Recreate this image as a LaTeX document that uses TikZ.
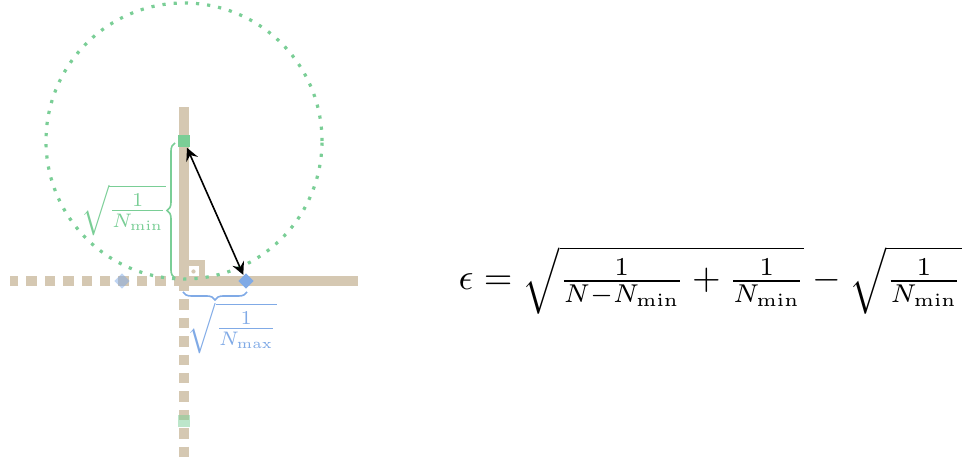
\documentclass[tikz,border=0pt]{standalone}
\usepackage{amsmath}
\usetikzlibrary{decorations.pathreplacing,shapes.geometric,arrows}
\definecolor{axistan}{RGB}{213,200,178}
\definecolor{mingreen}{RGB}{122,206,150}
\definecolor{maxblue}{RGB}{128,170,230}
\tikzset{
    axisline/.style={line width=2.6pt, color=axistan},
    axisdash/.style={axisline, dash pattern=on 2.6pt off 2pt},
    minmark/.style={fill=mingreen, minimum size=3pt, inner sep=0pt},
    maxmark/.style={diamond, fill=maxblue, minimum size=4pt, inner sep=0pt},
    bracelabel/.style={inner sep=0pt, scale=0.7}
}
\begin{document}
\begin{tikzpicture}[scale=0.8786, >=stealth]
    \useasboundingbox (-1.84,-1.79) rectangle (7.78,2.81);
    \draw[axisdash] (0,0) -- (-1.74,0);
    \draw[axisdash] (0,0) -- (0,-1.79);
    \draw[axisline] (0,0) -- (1.74,0);
    \draw[axisline] (0,0) -- (0,1.74);
    % right angle with dot
    \draw[axistan, line width=1.4pt] (0,0) rectangle (0.18,0.18);
    \fill[axistan] (0.095,0.095) circle (0.6pt);
    \node[minmark] (g) at (0,1.40) {};
    \node[maxmark] (d) at (0.62,0) {};
    \node[minmark, opacity=0.5] (gm) at (0,-1.40) {};
    \node[maxmark, opacity=0.5] (dm) at (-0.62,0) {};
    \draw[mingreen, dotted, line width=0.8pt] (g) circle (1.38);
    \draw[mingreen, thin, decorate, decoration={brace, amplitude=2pt}] (-0.09,0.03) -- (-0.09,1.38)
        node[midway, left=2pt, bracelabel, text=mingreen] (lmin) {$\sqrt{\frac{1}{N_{\min}}}$};
    \draw[maxblue, thin, decorate, decoration={brace, amplitude=2pt, mirror}] (-0.01,-0.11) -- (0.63,-0.11)
        node[midway, below=2.5pt, xshift=4.3pt, bracelabel, text=maxblue] (lmax) {$\sqrt{\frac{1}{N_{\max}}}$};
    \draw[thin, <->] (g) -- (d);
    \node[anchor=base west, inner sep=0pt, scale=0.92] (eq) at (2.74,-0.09)
        {$\epsilon = \sqrt{\frac{1}{N-N_{\min}} + \frac{1}{N_{\min}}} - \sqrt{\frac{1}{N_{\min}}}$};
\end{tikzpicture}
\end{document}
